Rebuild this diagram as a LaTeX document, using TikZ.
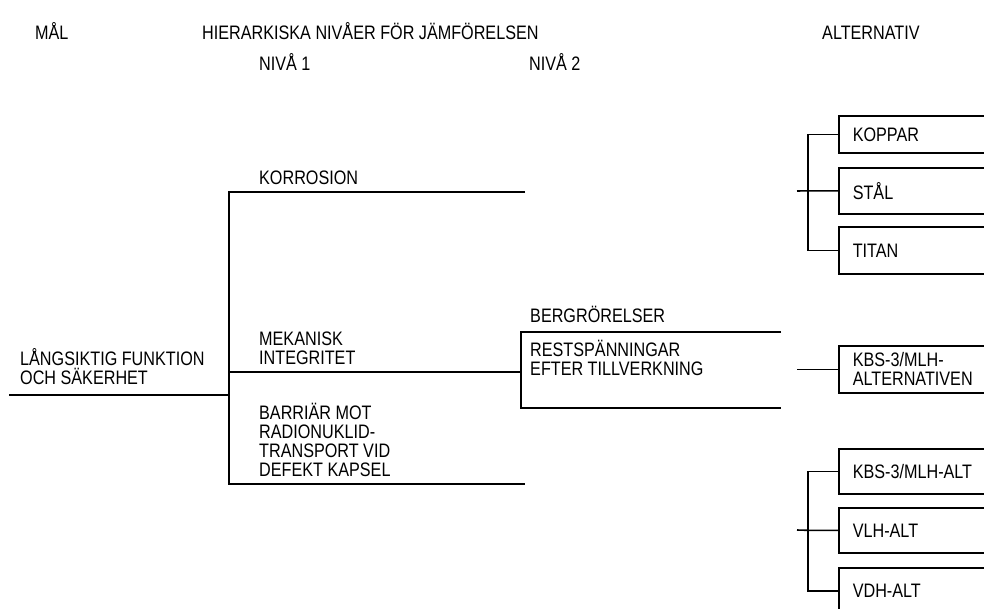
\documentclass[tikz,border=0pt]{standalone}
\usepackage{fontspec}
\setmainfont[FakeStretch=0.83]{Liberation Sans}
\usetikzlibrary{positioning}
\tikzstyle{tree}=[line width=1.6pt]
\tikzstyle{hdr}=[font=\fontsize{19.5}{19}\selectfont, inner sep=0pt, anchor=base west]
\tikzstyle{lbl}=[font=\fontsize{19.5}{19}\selectfont, inner sep=0pt, align=left, anchor=south west]
\tikzstyle{altbox}=[draw, line width=1.6pt, rectangle, anchor=north west, font=\fontsize{19.5}{19}\selectfont,
                inner xsep=14pt, inner ysep=0pt, text width=150pt, align=left]

\begin{document}
\begin{tikzpicture}[x=1pt,y=-1pt]
\useasboundingbox (0,0) rectangle (984,608);
\clip (0,0) rectangle (984,608);
% rubriker
\node[hdr] (mal) at (35,39) {MÅL};
\node[hdr] (niv) at (202,39) {HIERARKISKA NIVÅER FÖR JÄMFÖRELSEN};
\node[hdr] (alt) at (822,39) {ALTERNATIV};
\node[hdr] (niv1) at (259,70) {NIVÅ 1};
\node[hdr] (niv2) at (529,70) {NIVÅ 2};

% mål
\coordinate (m0) at (9,395);
\coordinate (n1) at (229,395);
\node[lbl] (funk) at (20,385) {LÅNGSIKTIG FUNKTION\\OCH SÄKERHET};
\draw[tree] (m0) -- (n1);

% nivå 1
\coordinate (korr) at (525,192);
\coordinate (mek) at (521,372);
\coordinate (barr) at (525,484);
\node[lbl] (korrtxt) at (259,185) {KORROSION};
\node[lbl] (mektxt) at (259,365) {MEKANISK\\INTEGRITET};
\node[lbl] (barrtxt) at (259,477)
  {BARRIÄR MOT\\RADIONUKLID-\\TRANSPORT VID\\DEFEKT KAPSEL};
\draw[tree] (korr) -| (n1) |- (barr);
\draw[tree] (n1 |- mek) -- (mek);

% nivå 2
\coordinate (berg) at (781,332);
\coordinate (rest) at (781,408);
\node[lbl] (bergtxt) at (530,323) {BERGRÖRELSER};
\node[lbl] (resttxt) at (530,376) {RESTSPÄNNINGAR\\EFTER TILLVERKNING};
\draw[tree] (berg) -| (mek) |- (rest);

% alternativ, material
\node[altbox, minimum height=37pt] (koppar) at (838,115) {KOPPAR};
\node[altbox, minimum height=46pt] (stal) at (838,167) {STÅL};
\node[altbox, minimum height=47pt] (titan) at (838,226) {TITAN};
\coordinate (g1in) at (797,191);
\coordinate (g1) at (808,191);
\draw[tree] (g1in) -- (g1 |- stal.west) -- (stal.west);
\draw[tree] (koppar.west) -| (g1) |- (titan.west);

% alternativ, kbs-3/mlh
\node[altbox, minimum height=47pt] (kbs) at (838,345) {KBS-3/MLH-\\ALTERNATIVEN};
\coordinate (g2in) at (797,368);
\draw[tree] (kbs.west -| g2in) -- (kbs.west);

% alternativ, förvarsmetod
\node[altbox, minimum height=45pt] (kbsalt) at (838,448) {KBS-3/MLH-ALT};
\node[altbox, minimum height=45pt] (vlh) at (838,507) {VLH-ALT};
\node[altbox, minimum height=46pt] (vdh) at (838,567) {VDH-ALT};
\coordinate (g3in) at (797,530);
\coordinate (g3) at (808,530);
\draw[tree] (g3in) -- (g3 |- vlh.west) -- (vlh.west);
\draw[tree] (kbsalt.west) -| (g3) |- (vdh.west);
\end{tikzpicture}
\end{document}
